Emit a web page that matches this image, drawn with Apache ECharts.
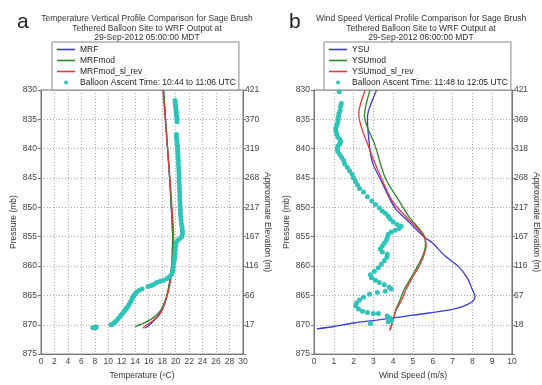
<!DOCTYPE html>
<html>
<head>
<meta charset="utf-8">
<script src="https://cdn.jsdelivr.net/npm/echarts@6/dist/echarts.min.js"></script>
<style>
  html, body { margin: 0; padding: 0; background: #fff; }
  #chart { width: 542px; height: 385px; }
</style>
</head>
<body>
<div id="chart"></div>
<script>
// pressure ticks (mb) and matching elevation labels (m)
const pressureTicks = [830, 835, 840, 845, 850, 855, 860, 865, 870, 875];
const elevA = ['421', '370', '319', '268', '217', '167', '116', '66', '17', ''];
const elevB = ['421', '369', '318', '268', '217', '167', '116', '67', '18', ''];

// panel a: temperature (C), pressure (mb)
const mrf = [[18.2, 830], [18.5, 835], [18.8, 840], [19.1, 845], [19.35, 850], [19.55, 855], [19.5, 858], [19.4, 860], [19.2, 862], [18.9, 864], [18.5, 866], [17.9, 867.5], [17.3, 868.6], [16.6, 869.5], [15.9, 870.2], [15.4, 870.6]];
const mrfMod = [[18.2, 830], [18.5, 835], [18.8, 840], [19.1, 845], [19.35, 850], [19.55, 855], [19.5, 858], [19.4, 860], [19.2, 862], [18.9, 864], [18.4, 866], [17.8, 867.5], [16.8, 868.7], [15.5, 869.6], [14.0, 870.3]];
const mrfModSl = [[18.1, 830], [18.45, 835], [18.8, 840], [19.15, 845], [19.45, 850], [19.7, 855], [19.65, 858], [19.5, 860], [19.3, 862], [19.0, 864], [18.6, 865.5], [18.2, 867], [17.6, 868.3], [16.5, 869.4], [15.6, 870.1], [15.1, 870.6]];
const balloonA = [
  [19.9, 831.8], [19.95, 832.2], [20.0, 832.6], [20.0, 833.0], [20.05, 833.4], [20.1, 833.8], [20.1, 834.2], [20.15, 834.6], [20.2, 835.0], [20.2, 835.4],
  [20.1, 837.6], [20.1, 838.0], [20.15, 838.4], [20.2, 838.8], [20.2, 839.2], [20.25, 839.6], [20.3, 840.0], [20.3, 840.5], [20.35, 841.0], [20.35, 841.5],
  [20.4, 842.0], [20.4, 842.6], [20.45, 843.2], [20.45, 843.8], [20.5, 844.4], [20.5, 845.0], [20.5, 845.6], [20.55, 846.2], [20.55, 846.8], [20.6, 847.4],
  [20.6, 848.0], [20.6, 848.6], [20.65, 849.2], [20.65, 849.8], [20.7, 850.4], [20.7, 851.0], [20.75, 851.6], [20.8, 852.2], [20.85, 852.8], [20.95, 853.4],
  [21.0, 854.0], [21.0, 854.5], [20.9, 855.0], [20.6, 855.3], [20.3, 855.6], [20.1, 856.0], [20.0, 856.6], [19.95, 857.2], [19.9, 857.8], [19.85, 858.4],
  [19.8, 859.0], [19.7, 859.6], [19.65, 860.2], [19.6, 860.8], [19.4, 861.4], [19.1, 861.8], [18.7, 862.1], [18.2, 862.4], [17.7, 862.6], [17.2, 862.8],
  [16.8, 863.1], [16.4, 863.3], [15.9, 863.5], [15.0, 863.9], [14.6, 864.1], [14.2, 864.4], [14.0, 864.7], [13.8, 865.0], [13.6, 865.3], [13.5, 865.7],
  [13.3, 866.1], [13.1, 866.5], [12.9, 866.9], [12.7, 867.2], [12.5, 867.5], [12.3, 867.8], [12.0, 868.2], [11.8, 868.5], [11.5, 868.9], [11.2, 869.3],
  [10.9, 869.6], [10.6, 869.9], [10.4, 870.0], [7.7, 870.5], [7.9, 870.5], [8.1, 870.5], [8.2, 870.4]
];

// panel b: wind speed (m/s), pressure (mb)
const ysu = [[3.16, 830], [2.75, 833.6], [2.7, 835], [2.83, 840.3], [2.97, 842.5], [3.4, 845.5], [4.07, 850], [4.8, 852.5], [5.55, 855], [5.96, 856], [6.6, 858.2], [7.3, 860.1], [7.74, 862], [8.0, 864], [8.14, 865.2], [7.94, 866.2], [7.1, 867.3], [5.8, 868], [4.48, 868.6], [3.16, 869.2], [2.0, 869.7], [1.0, 870.3], [0.15, 870.7]];
const ysuMod = [[2.83, 830], [2.55, 834.4], [3.08, 839.4], [3.6, 845], [4.3, 848.9], [4.8, 851.6], [5.55, 854.7], [5.63, 856.5], [5.5, 858.2], [5.22, 860.1], [4.9, 862], [4.56, 864], [4.32, 866], [4.12, 867.5], [4.0, 869.2], [3.9, 870.3], [3.87, 870.8]];
const ysuModSl = [[2.59, 830], [2.26, 834.1], [2.83, 840.3], [3.4, 845], [3.95, 848.9], [4.65, 851.6], [5.47, 854.5], [5.67, 856.5], [5.55, 858.2], [5.3, 860.1], [4.97, 862], [4.65, 864], [4.4, 866], [4.15, 867.5], [4.0, 869.2], [3.85, 870.6], [3.82, 871]];
const balloonB = [
  [1.27, 830.3], [1.38, 832.3], [1.34, 832.8], [1.32, 833.5], [1.26, 834.0], [1.24, 834.5], [1.22, 835.0], [1.2, 835.5], [1.15, 836.0], [1.1, 836.5],
  [1.1, 837.0], [1.15, 837.5], [1.2, 838.0], [1.3, 838.4], [1.35, 838.8], [1.3, 839.2], [1.2, 839.6], [1.18, 840.0], [1.2, 840.5], [1.3, 841.0],
  [1.4, 841.5], [1.5, 842.0], [1.55, 842.6], [1.68, 843.2], [1.8, 843.8], [1.93, 844.4], [2.0, 845.0], [2.1, 845.6], [2.2, 846.2], [2.3, 846.8],
  [2.5, 847.4], [2.7, 848.2], [2.92, 848.9], [3.1, 849.5], [3.3, 850.1], [3.45, 850.6], [3.6, 851.0], [3.75, 851.5], [3.85, 852.0], [4.0, 852.5],
  [4.2, 852.9], [4.4, 853.2], [4.3, 853.6], [4.1, 853.9], [3.9, 854.2], [3.75, 854.6], [3.7, 855.1], [3.65, 855.6], [3.55, 856.1], [3.45, 856.6],
  [3.35, 857.1], [3.45, 857.6], [3.7, 858.0], [3.68, 858.5], [3.55, 859.1], [3.4, 859.7], [3.25, 860.3], [3.05, 860.9], [2.85, 861.5], [2.9, 862.0],
  [3.1, 862.4], [3.3, 862.8], [3.55, 863.2], [3.8, 863.6], [3.9, 863.9], [3.6, 864.3], [3.2, 864.5], [2.8, 864.8], [2.5, 865.3], [2.3, 865.8],
  [2.15, 866.3], [2.1, 866.8], [2.25, 867.3], [2.45, 867.7], [2.7, 867.9], [3.0, 868.1], [3.25, 868.1], [3.7, 868.5], [3.85, 868.9], [3.9, 869.3],
  [3.75, 869.5], [2.85, 869.8]
];

const BLUE = '#3b3bd6';
const GREEN = '#2a8a2a';
const RED = '#e83a3a';
const CYAN = '#2ec4b8';
const FONT = 'Liberation Sans';
const dotIcon = 'path://M0,0L0,0M18,9L18,9M9,2.5a2,2 0 1,0 0.01,0z';
const lineIcon = 'path://M0,3.7L18,3.7L18,5.3L0,5.3Z';

const chart = echarts.init(document.getElementById('chart'));

function leftY(gridIndex) {
  return {
    type: 'value', gridIndex, inverse: true, min: 830, max: 875, interval: 5,
    name: 'Pressure (mb)', nameLocation: 'middle', nameGap: 23,
    nameTextStyle: { fontFamily: FONT, fontSize: 8.5, color: '#333' },
    axisLine: { show: true, lineStyle: { color: '#777' } },
    axisTick: { show: true, length: 3, lineStyle: { color: '#777' } },
    axisLabel: { fontFamily: FONT, fontSize: 8.5, color: '#444', margin: 4 },
    splitLine: { show: true, lineStyle: { color: '#aaa', type: [1, 2] } }
  };
}

function rightY(gridIndex, labels, gap) {
  return {
    type: 'value', gridIndex, position: 'right', inverse: true, min: 830, max: 875, interval: 5,
    name: 'Approximate Elevation (m)', nameLocation: 'middle', nameGap: gap, nameRotate: -90,
    nameTextStyle: { fontFamily: FONT, fontSize: 8.5, color: '#333' },
    axisLine: { show: true, lineStyle: { color: '#777' } },
    axisTick: { show: true, length: 3, lineStyle: { color: '#777' } },
    axisLabel: {
      fontFamily: FONT, fontSize: 8.5, color: '#444', margin: 2,
      formatter: (v) => labels[pressureTicks.indexOf(v)] || ''
    },
    splitLine: { show: false }
  };
}

function xAxisFor(gridIndex, max, interval, name) {
  return {
    type: 'value', gridIndex, min: 0, max, interval,
    name, nameLocation: 'middle', nameGap: 16,
    nameTextStyle: {
      fontFamily: FONT, fontSize: 8.5, color: '#333',
      rich: { sup: { fontFamily: FONT, fontSize: 5.5, color: '#333', verticalAlign: 'top', lineHeight: 9 } }
    },
    axisLine: { show: true, lineStyle: { color: '#777' } },
    axisTick: { show: false },
    axisLabel: { fontFamily: FONT, fontSize: 8.5, color: '#444', margin: 3 },
    splitLine: { show: true, lineStyle: { color: '#aaa', type: [1, 2] } }
  };
}

function lineSeries(name, data, color, axis) {
  return {
    name, type: 'line', data, xAxisIndex: axis, yAxisIndex: axis * 2,
    showSymbol: false, symbol: 'none', smooth: 0.3,
    lineStyle: { color, width: 1.3 }, itemStyle: { color }, z: 3, animation: false
  };
}

function dotSeries(name, data, axis) {
  return {
    name, type: 'scatter', data, xAxisIndex: axis, yAxisIndex: axis * 2,
    symbolSize: 5, itemStyle: { color: CYAN, opacity: 1 }, z: 4, animation: false
  };
}

function titleFor(x, text) {
  return {
    text, left: x, top: 9, textAlign: 'center',
    textStyle: { fontFamily: FONT, fontSize: 8.5, fontWeight: 'normal', color: '#333', lineHeight: 9.5 }
  };
}

function legendFor(left, names) {
  return {
    left, top: 42, orient: 'vertical', itemGap: 2, itemWidth: 18, itemHeight: 9,
    padding: [3, 3, 3, 5], borderColor: '#888', borderWidth: 1, backgroundColor: '#fff',
    textStyle: { fontFamily: FONT, fontSize: 8.5, color: '#222' },
    data: names.map((n, i) => ({ name: n, icon: i === 3 ? dotIcon : lineIcon }))
  };
}

const namesA = ['MRF', 'MRFmod', 'MRFmod_sl_rev', 'Balloon Ascent Time: 10:44 to 11:06 UTC'];
const namesB = ['YSU', 'YSUmod', 'YSUmod_sl_rev', 'Balloon Ascent Time: 11:48 to 12:05 UTC'];

chart.setOption({
  animation: false,
  title: [
    titleFor(142, 'Temperature Vertical Profile Comparison for Sage Brush\nTethered Balloon Site to WRF Output at\n29-Sep-2012 05:00:00 MDT'),
    titleFor(416, 'Wind Speed Vertical Profile Comparison for Sage Brush\nTethered Balloon Site to WRF Output at\n29-Sep-2012 06:00:00 MDT'),
    { text: 'a', left: 12, top: 7, textStyle: { fontFamily: FONT, fontSize: 21, fontWeight: 'normal', color: '#222' } },
    { text: 'b', left: 284, top: 7, textStyle: { fontFamily: FONT, fontSize: 21, fontWeight: 'normal', color: '#222' } }
  ],
  legend: [legendFor(52, namesA), legendFor(324, namesB)],
  grid: [
    { left: 41, top: 90, width: 202, height: 273, show: true, borderColor: '#777', borderWidth: 1, backgroundColor: 'transparent' },
    { left: 314, top: 90, width: 202, height: 273, show: true, borderColor: '#777', borderWidth: 1, backgroundColor: 'transparent' }
  ],
  xAxis: [
    xAxisFor(0, 30, 2, 'Temperature ({sup|o}C)'),
    xAxisFor(1, 10, 1, 'Wind Speed (m/s)')
  ],
  yAxis: [leftY(0), rightY(0, elevA, 20), leftY(1), rightY(1, elevB, 18)],
  series: [
    lineSeries(namesA[0], mrf, BLUE, 0),
    lineSeries(namesA[1], mrfMod, GREEN, 0),
    lineSeries(namesA[2], mrfModSl, RED, 0),
    dotSeries(namesA[3], balloonA, 0),
    lineSeries(namesB[0], ysu, BLUE, 1),
    lineSeries(namesB[1], ysuMod, GREEN, 1),
    lineSeries(namesB[2], ysuModSl, RED, 1),
    dotSeries(namesB[3], balloonB, 1)
  ]
});
</script>
</body>
</html>
